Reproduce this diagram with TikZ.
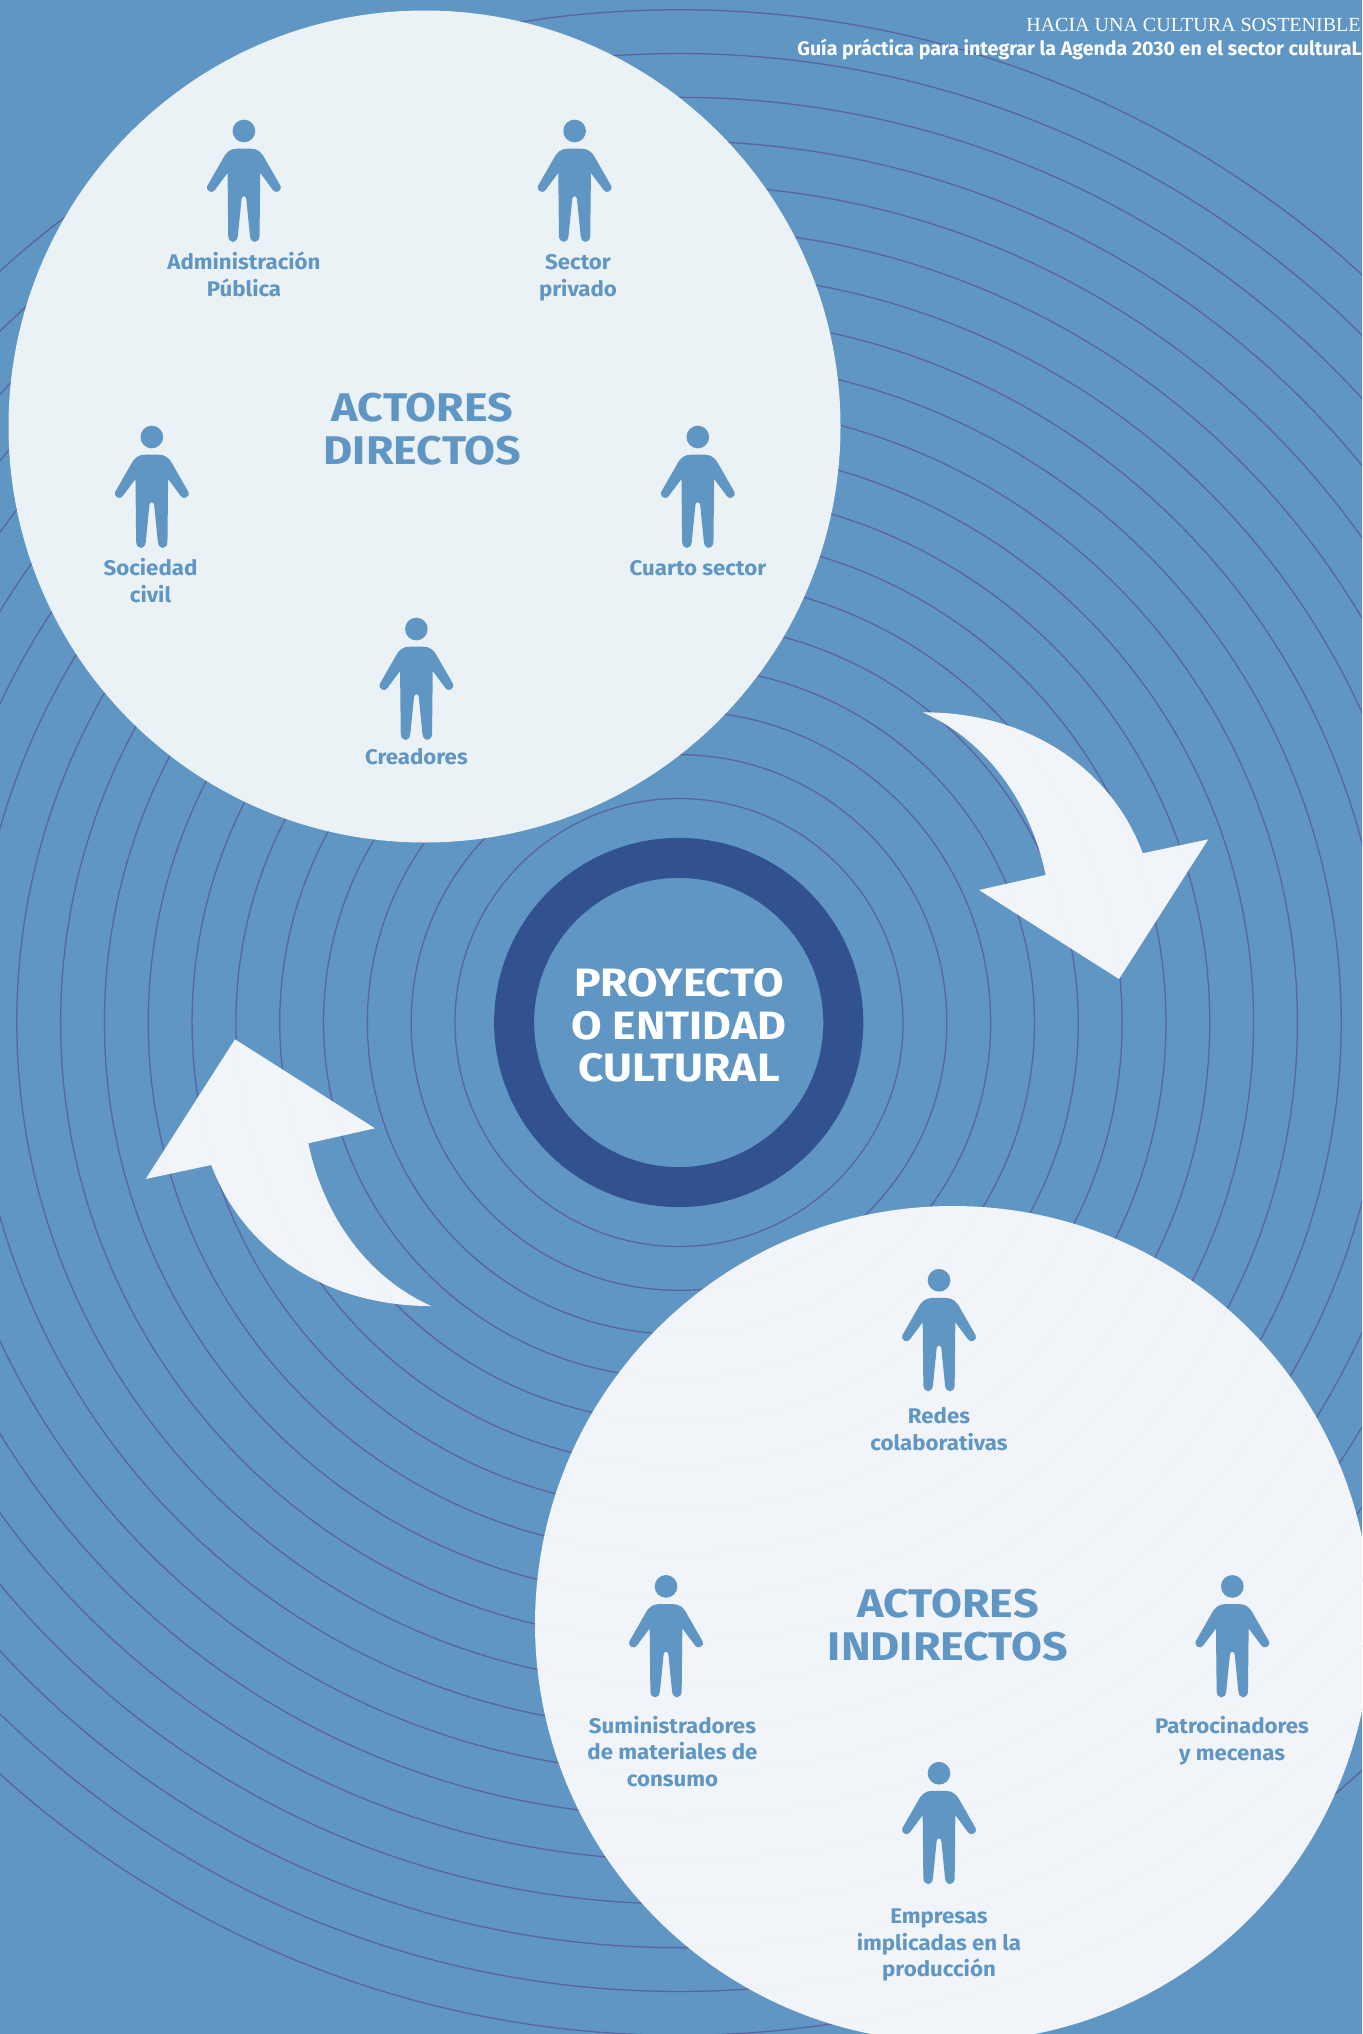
\documentclass[tikz,border=0pt]{standalone}
\usepackage{fontspec}
\setmainfont{Fira Sans}
\newfontfamily\headserif{Liberation Serif}
\newfontfamily\labelface[FakeStretch=1.05]{Fira Sans}
\newfontfamily\bigface[FakeStretch=1.12]{Fira Sans}
\definecolor{bgblue}{RGB}{95,150,195}
\definecolor{ringline}{RGB}{91,100,160}
\definecolor{darkring}{RGB}{49,82,143}
\definecolor{paperA}{RGB}{243,247,249}
\definecolor{paperB}{RGB}{249,250,251}
\tikzset{
  px/.style={x=0.5pt,y=-0.5pt},
  bigdisc/.style={circle,inner sep=0pt,fill=#1,fill opacity=.95},
  label/.style={text=bgblue,align=center,font=\labelface\fontsize{10.6}{13.45}\selectfont\bfseries,inner sep=0pt},
  heading/.style={text=bgblue,align=center,font=\bigface\fontsize{20}{21.2}\selectfont\bfseries,inner sep=0pt},
  centretext/.style={text=white,align=center,font=\bigface\fontsize{19.8}{21.3}\selectfont\bfseries,inner sep=0pt},
  person/.pic={
    \fill[bgblue,scale=0.3333] (0,0) circle[radius=34];
    \fill[bgblue,scale=0.3333] (-49,126) -- (-47,313)
      .. controls (-47,326) and (-40,333) .. (-32.5,333)
      .. controls (-25,333) and (-19,326) .. (-18,313)
      -- (-7,203) .. controls (-6,198) and (-3,196) .. (0,196)
      .. controls (3,196) and (6,198) .. (7,203)
      -- (18,313) .. controls (19,326) and (25,333) .. (32.5,333)
      .. controls (40,333) and (47,326) .. (47,313)
      -- (49,126) -- (87,177)
      .. controls (91,183) and (98,185) .. (104,181)
      .. controls (110,177) and (113,171) .. (110,165)
      -- (63,83) .. controls (52,62) and (40,53) .. (20,53)
      -- (-20,53) .. controls (-40,53) and (-52,62) .. (-63,83)
      -- (-110,165) .. controls (-113,171) and (-110,177) .. (-104,181)
      .. controls (-98,185) and (-91,183) .. (-87,177) -- cycle;
  }
}
\begin{document}
\begin{tikzpicture}[px]
\useasboundingbox (0,0) rectangle (1362,2034);
\clip (0,0) rectangle (1362,2034);
\fill[bgblue] (0,0) rectangle (1362,2034);
% concentric rings
\foreach \k in {0,...,18}{
  \pgfmathsetmacro{\rr}{224+43.82*\k}
  \draw[ringline,line width=0.65pt] (679,1022.5) circle[radius=\rr];
}
% arrows
\fill[paperB,fill opacity=.95] (922.7,712.3)
  .. controls (1030,712) and (1112,770) .. (1142.7,853.3)
  -- (1208.3,839.3) -- (1119,979) -- (979,890) -- (1045.7,875)
  .. controls (1030,800) and (985,740) .. (922.7,712.3) -- cycle;
\fill[paperB,fill opacity=.95] (431.3,1306)
  .. controls (324,1306.3) and (242,1248.3) .. (211.3,1165)
  -- (145.7,1179) -- (235,1039.3) -- (375,1128.3) -- (308.3,1143.3)
  .. controls (324,1218.3) and (369,1278.3) .. (431.3,1306) -- cycle;
% large discs
\node[bigdisc=paperA,minimum size=416pt] (direct) at (424.5,426.5) {};
\node[bigdisc=paperB,minimum size=418pt] (indirect) at (953,1624) {};
% centre ring
\node[circle,inner sep=0pt,minimum size=164.6pt,draw=darkring,line width=20pt,fill=bgblue] (core) at (678.7,1022.5) {};
\node[centretext] (coretext) at (679,1025.5) {PROYECTO\\O ENTIDAD\\CULTURAL};
% header
\node[anchor=base east,inner sep=0pt,text=white,font=\fontsize{10}{12}\headserif] (h1) at (1361,31.7) {HACIA UNA CULTURA SOSTENIBLE};
\node[anchor=base east,inner sep=0pt,text=white,font=\fontsize{9.8}{12}\selectfont\bfseries] (h2) at (1362,55) {Guía práctica para integrar la Agenda 2030 en el sector culturaL};
% top disc content
\node[heading] (hd) at (422.5,429) {ACTORES\\DIRECTOS};
\pic at (243.9,131) {person};
\pic at (574.6,131) {person};
\pic at (151.8,437) {person};
\pic at (697.8,437) {person};
\pic at (416.4,629) {person};
\node[label] (l1) at (244,274) {Administración\\Pública};
\node[label] (l2) at (578,277.5) {Sector\\privado};
\node[label] (l3) at (150.5,581) {Sociedad\\civil};
\node[label] (l4) at (698,568) {Cuarto sector};
\node[label] (l5) at (416.4,757) {Creadores};
% bottom disc content
\node[heading] (hi) at (948,1625) {ACTORES\\INDIRECTOS};
\pic at (939,1280.3) {person};
\pic at (666,1586.4) {person};
\pic at (1232.3,1586.4) {person};
\pic at (939,1773.2) {person};
\node[label] (l6) at (939,1429.5) {Redes\\colaborativas};
\node[label] (l7) at (672.5,1751.5) {Suministradores\\de materiales de\\consumo};
\node[label] (l8) at (1232,1740.4) {Patrocinadores\\y mecenas};
\node[label] (l9) at (939,1945) {Empresas\\implicadas en la\\producción};
\end{tikzpicture}
\end{document}
